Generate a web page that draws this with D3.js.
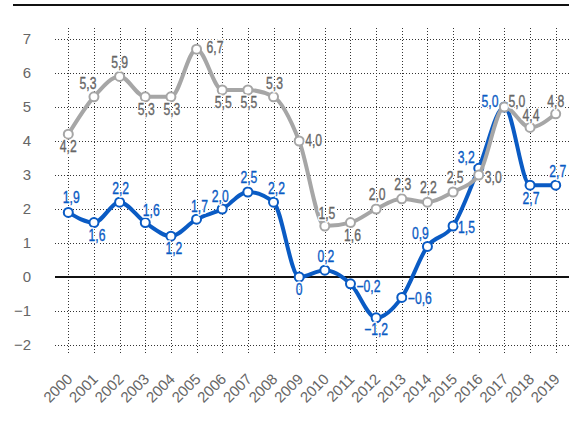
<!DOCTYPE html>
<html>
<head>
<meta charset="utf-8">
<script src="https://cdn.jsdelivr.net/npm/d3@7"></script>
<style>
  body { margin: 0; background: #fff; }
  svg { display: block; }
  .lbl { font-family: "Liberation Sans", Arial, sans-serif; font-size: 16px; }
  .ax { font-family: "Liberation Sans", Arial, sans-serif; font-size: 15px; fill: #666; }
</style>
</head>
<body>
<svg id="chart" width="581" height="443"></svg>
<script>
// --- data ---
const years = [2000, 2001, 2002, 2003, 2004, 2005, 2006, 2007, 2008, 2009,
               2010, 2011, 2012, 2013, 2014, 2015, 2016, 2017, 2018, 2019];
const blueValues = [1.9, 1.6, 2.2, 1.6, 1.2, 1.7, 2.0, 2.5, 2.2, 0,
                    0.2, -0.2, -1.2, -0.6, 0.9, 1.5, 3.2, 5.0, 2.7, 2.7];
const greyValues = [4.2, 5.3, 5.9, 5.3, 5.3, 6.7, 5.5, 5.5, 5.3, 4.0,
                    1.5, 1.6, 2.0, 2.3, 2.2, 2.5, 3.0, 5.0, 4.4, 4.8];
const yTicks = [-2, -1, 0, 1, 2, 3, 4, 5, 6, 7];

// label placement around each marker: [dx, dy, anchor]
const greyLabelPos = [
  [0, 18, "middle"], [-6, -8, "middle"], [0, -8, "middle"], [1, 18, "middle"], [1, 18, "middle"],
  [10, 4, "start"], [1, 18, "middle"], [1, 18, "middle"], [1, -8, "middle"], [6, 5, "start"],
  [2, -7, "middle"], [2, 18, "middle"], [1, -9, "middle"], [1, -9, "middle"], [1, -9, "middle"],
  [2, -9, "middle"], [6, 8, "start"], [4, 0, "start"], [1, -6, "middle"], [0, -7, "middle"]
];
const blueLabelPos = [
  [3, -9, "middle"], [3, 18, "middle"], [1, -8, "middle"], [6, -7, "middle"], [3, 18, "middle"],
  [3, -7, "middle"], [-2, -7, "middle"], [1, -9, "middle"], [3, -8, "middle"], [0, 18, "middle"],
  [1, -8, "middle"], [6, 8, "start"], [0, 17, "middle"], [6, 7, "start"], [-7, -7, "middle"],
  [5, 7, "start"], [-4, -5, "end"], [-6, 0, "end"], [1, 19, "middle"], [2, -8, "middle"]
];

const svg = d3.select("#chart");
const BLUE = "#0a5bc4", GREY = "#a6a6a6";

const x = d3.scalePoint().domain(years).range([68.3, 555.7]);
const y = d3.scaleLinear().domain([-2, 7]).range([345, 39]);

// top rule
svg.append("line")
  .attr("x1", 13).attr("x2", 569).attr("y1", 5).attr("y2", 5)
  .attr("stroke", "#111").attr("stroke-width", 2);

// grid
const grid = svg.append("g");
grid.selectAll("line.v").data(years).enter().append("line")
  .attr("x1", d => Math.round(x(d)) + 0.5).attr("x2", d => Math.round(x(d)) + 0.5)
  .attr("y1", 28).attr("y2", 353)
  .attr("stroke", "#333").attr("stroke-width", 1).attr("stroke-dasharray", "1,2");
grid.selectAll("line.h").data(yTicks.filter(d => d !== 0)).enter().append("line")
  .attr("x1", 55).attr("x2", 569)
  .attr("y1", d => Math.round(y(d)) + 0.5).attr("y2", d => Math.round(y(d)) + 0.5)
  .attr("stroke", "#333").attr("stroke-width", 1).attr("stroke-dasharray", "1,2");
grid.append("line")
  .attr("x1", 55).attr("x2", 569).attr("y1", y(0)).attr("y2", y(0))
  .attr("stroke", "#111").attr("stroke-width", 2);

// y labels
svg.selectAll("text.yl").data(yTicks).enter().append("text")
  .attr("class", "ax")
  .attr("x", 31).attr("y", d => y(d) + 5)
  .attr("text-anchor", "end")
  .text(d => d < 0 ? "\u2212" + Math.abs(d) : d);

// x labels
svg.selectAll("text.xl").data(years).enter().append("text")
  .attr("class", "ax")
  .attr("text-anchor", "end")
  .attr("transform", d => `translate(${x(d) + 5},${380}) rotate(-45)`)
  .text(d => d);

// lines
const line = d3.line()
  .x((d, i) => x(years[i]))
  .y(d => y(d))
  .curve(d3.curveMonotoneX);

const fmt = d => d === 0 ? "0" : (d < 0 ? "\u2212" : "") + d3.format(".1f")(Math.abs(d)).replace(".", ",");

function series(vals, color) {
  const g = svg.append("g");
  g.append("path").datum(vals)
    .attr("d", line)
    .attr("fill", "none").attr("stroke", color).attr("stroke-width", 4)
    .attr("stroke-linejoin", "round");
  g.selectAll("circle").data(vals).enter().append("circle")
    .attr("cx", (d, i) => x(years[i])).attr("cy", d => y(d))
    .attr("r", 4.5).attr("fill", "#fff")
    .attr("stroke", color).attr("stroke-width", 2);
}

function labels(vals, pos, textColor) {
  const g = svg.append("g");
  const place = (d, i) => `translate(${x(years[i]) + pos[i][0]},${y(d) + pos[i][1]}) scale(0.76,1)`;
  // white halo so the grid stops around the figures
  g.selectAll("text.halo").data(vals).enter().append("text")
    .attr("class", "lbl halo")
    .attr("transform", place)
    .attr("text-anchor", (d, i) => pos[i][2])
    .attr("fill", "#fff").attr("stroke", "#fff").attr("stroke-width", 3.5)
    .attr("stroke-linejoin", "round")
    .text(fmt);
  g.selectAll("text.val").data(vals).enter().append("text")
    .attr("class", "lbl val")
    .attr("transform", place)
    .attr("text-anchor", (d, i) => pos[i][2])
    .attr("fill", textColor).attr("stroke", textColor).attr("stroke-width", 0.35)
    .text(fmt);
}

series(blueValues, BLUE);
series(greyValues, GREY);
labels(blueValues, blueLabelPos, BLUE);
labels(greyValues, greyLabelPos, "#666");
</script>
</body>
</html>
